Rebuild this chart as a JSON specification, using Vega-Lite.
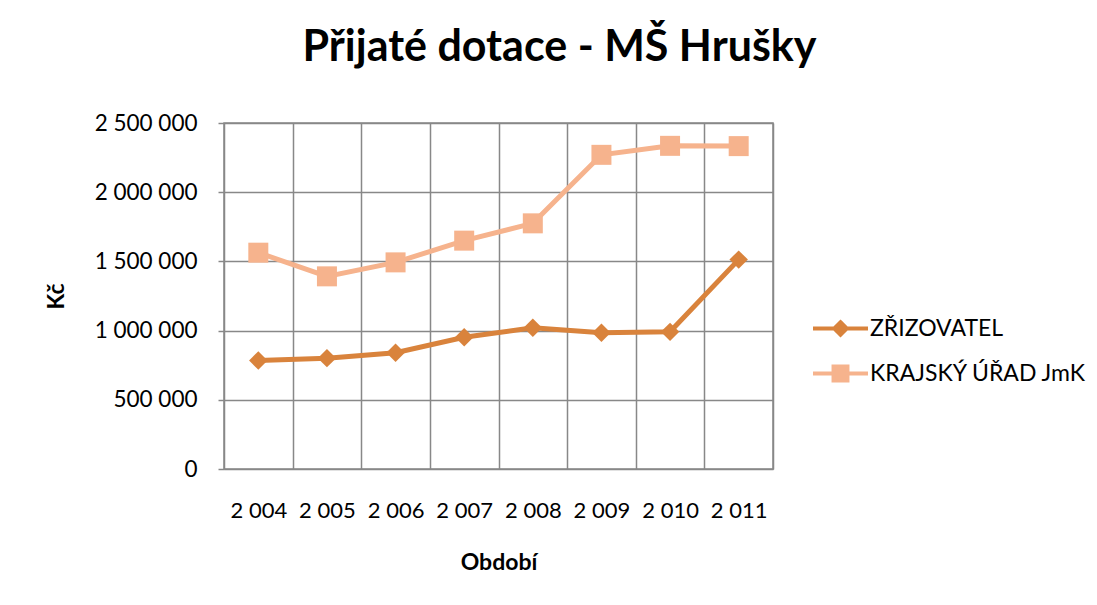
{
  "$schema": "https://vega.github.io/schema/vega-lite/v6.json",
  "autosize": {"type": "none"},
  "width": 549,
  "height": 346,
  "padding": {"left": 224, "top": 123, "right": 324, "bottom": 136},
  "background": "white",
  "config": {
    "font": "Lato",
    "view": {"stroke": "#888888", "strokeWidth": 1.5}
  },
  "title": {
    "text": "Přijaté dotace - MŠ Hrušky",
    "font": "Lato",
    "fontSize": 43,
    "fontWeight": "bold",
    "color": "#000000",
    "anchor": "middle",
    "baseline": "alphabetic",
    "dx": 61,
    "offset": 8
  },
  "data": {
    "values": [
      {"rok": 2004, "zdroj": "ZŘIZOVATEL", "castka": 784000},
      {"rok": 2005, "zdroj": "ZŘIZOVATEL", "castka": 801000},
      {"rok": 2006, "zdroj": "ZŘIZOVATEL", "castka": 840000},
      {"rok": 2007, "zdroj": "ZŘIZOVATEL", "castka": 952000},
      {"rok": 2008, "zdroj": "ZŘIZOVATEL", "castka": 1020000},
      {"rok": 2009, "zdroj": "ZŘIZOVATEL", "castka": 984000},
      {"rok": 2010, "zdroj": "ZŘIZOVATEL", "castka": 991000},
      {"rok": 2011, "zdroj": "ZŘIZOVATEL", "castka": 1513000},
      {"rok": 2004, "zdroj": "KRAJSKÝ ÚŘAD JmK", "castka": 1563000},
      {"rok": 2005, "zdroj": "KRAJSKÝ ÚŘAD JmK", "castka": 1392000},
      {"rok": 2006, "zdroj": "KRAJSKÝ ÚŘAD JmK", "castka": 1493000},
      {"rok": 2007, "zdroj": "KRAJSKÝ ÚŘAD JmK", "castka": 1650000},
      {"rok": 2008, "zdroj": "KRAJSKÝ ÚŘAD JmK", "castka": 1775000},
      {"rok": 2009, "zdroj": "KRAJSKÝ ÚŘAD JmK", "castka": 2270000},
      {"rok": 2010, "zdroj": "KRAJSKÝ ÚŘAD JmK", "castka": 2335000},
      {"rok": 2011, "zdroj": "KRAJSKÝ ÚŘAD JmK", "castka": 2333000}
    ]
  },
  "encoding": {
    "x": {
      "field": "rok",
      "type": "ordinal",
      "scale": {"type": "band", "paddingInner": 0, "paddingOuter": 0},
      "axis": {
        "title": "Období",
        "titleFont": "Lato",
        "titleFontSize": 23,
        "titleFontWeight": "bold",
        "titleColor": "#000000",
        "titlePadding": 30,
        "labelAngle": 0,
        "labelFont": "Lato",
        "labelFontSize": 22,
        "labelColor": "#000000",
        "labelPadding": 31,
        "labelExpr": "isValid(datum.value) ? replace(format(datum.value, ','), regexp(',', 'g'), ' ') : ''",
        "tickBand": "extent",
        "ticks": false,
        "domain": false,
        "grid": true,
        "gridColor": "#888888",
        "gridWidth": 1.5,
        "gridOpacity": 1
      }
    },
    "y": {
      "field": "castka",
      "type": "quantitative",
      "scale": {"domain": [0, 2500000], "nice": false},
      "axis": {
        "title": "Kč",
        "titleFont": "Lato",
        "titleFontSize": 23,
        "titleFontWeight": "bold",
        "titleColor": "#000000",
        "titlePadding": 26,
        "values": [0, 500000, 1000000, 1500000, 2000000, 2500000],
        "labelFont": "Lato",
        "labelFontSize": 22.5,
        "labelColor": "#000000",
        "labelPadding": 21,
        "labelExpr": "replace(format(datum.value, ','), regexp(',', 'g'), ' ')",
        "tickSize": 6,
        "tickColor": "#888888",
        "tickWidth": 1.5,
        "domain": false,
        "grid": true,
        "gridColor": "#888888",
        "gridWidth": 1.5,
        "gridOpacity": 1
      }
    },
    "color": {
      "field": "zdroj",
      "type": "nominal",
      "scale": {
        "domain": ["ZŘIZOVATEL", "KRAJSKÝ ÚŘAD JmK"],
        "range": ["#D9833C", "#F6B38D"]
      },
      "legend": {
        "title": null,
        "orient": "none",
        "legendX": 596,
        "legendY": 185,
        "padding": 0,
        "labelFont": "Lato",
        "labelFontSize": 23,
        "labelColor": "#000000",
        "labelOffset": 9,
        "labelLimit": 400,
        "symbolSize": 1344,
        "symbolStrokeWidth": 4,
        "rowPadding": 10,
        "encode": {
          "symbols": {
            "update": {
              "shape": {"signal": "datum.value === 'ZŘIZOVATEL' ? 'M-1.5,0H1.5M0,-0.34L0.34,0L0,0.34L-0.34,0Z' : 'M-1.5,0H1.5M-0.38,-0.38H0.38V0.38H-0.38Z'"},
              "fill": {"scale": "color", "field": "value"},
              "stroke": {"scale": "color", "field": "value"},
              "strokeWidth": {"value": 4},
              "opacity": {"value": 1},
              "fillOpacity": {"value": 1},
              "strokeOpacity": {"value": 1}
            }
          }
        }
      }
    }
  },
  "layer": [
    {
      "mark": {"type": "line", "strokeWidth": 5}
    },
    {
      "transform": [{"filter": "datum.zdroj === 'ZŘIZOVATEL'"}],
      "mark": {"type": "point", "shape": "diamond", "size": 340, "filled": true, "opacity": 1}
    },
    {
      "transform": [{"filter": "datum.zdroj === 'KRAJSKÝ ÚŘAD JmK'"}],
      "mark": {"type": "point", "shape": "square", "size": 400, "filled": true, "opacity": 1}
    }
  ]
}
